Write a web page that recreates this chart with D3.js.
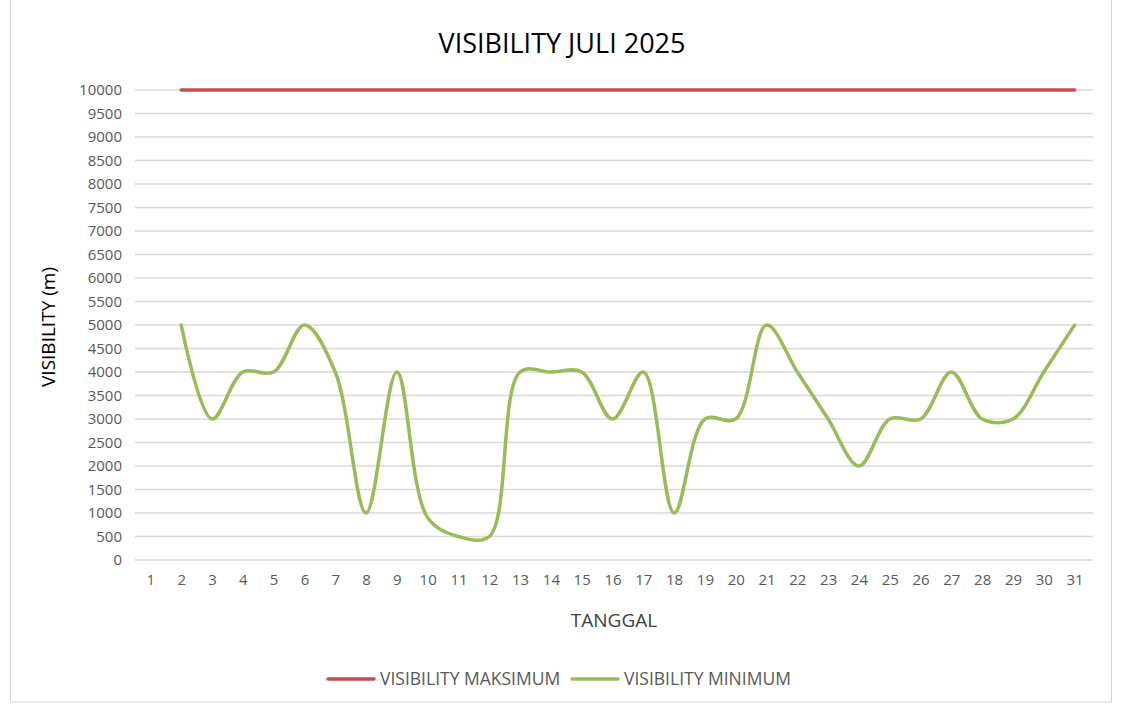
<!DOCTYPE html>
<html>
<head>
<meta charset="utf-8">
<script src="https://cdn.jsdelivr.net/npm/d3@7"></script>
<style>
  body { margin: 0; background: #fff; }
  svg, svg text { font-family: "Open Sans", "Noto Sans", sans-serif; }
</style>
</head>
<body>
<div id="container"></div>
<script>
// data
var days = d3.range(1, 32)
var visMax = [null, 10000, 10000, 10000, 10000, 10000, 10000, 10000, 10000, 10000,
  10000, 10000, 10000, 10000, 10000, 10000, 10000, 10000, 10000, 10000,
  10000, 10000, 10000, 10000, 10000, 10000, 10000, 10000, 10000, 10000, 10000]
var visMin = [null, 5000, 3000, 4000, 4000, 5000, 4000, 1000, 4000, 900,
  500, 500, 4000, 4000, 4000, 3000, 4000, 1000, 3000, 3000,
  5000, 4000, 3000, 2000, 3000, 3000, 4000, 3000, 3000, 4000, 5000]
var yTicks = d3.range(0, 10001, 500)
var seriesNames = ['VISIBILITY MAKSIMUM', 'VISIBILITY MINIMUM']
var seriesColors = ['#C0504D', '#9BBB59']

var WIDTH = 1122
var HEIGHT = 707
var plotLeft = 135, plotRight = 1090, plotTop = 90, plotBottom = 560

var svg = d3.select('#container').append('svg')
  .attr('width', WIDTH)
  .attr('height', HEIGHT)

// chart border
svg.append('rect')
  .attr('x', 10.5).attr('y', -2)
  .attr('width', 1101).attr('height', 704)
  .attr('fill', 'none')
  .attr('stroke', '#d9d9d9')

var x = d3.scalePoint()
  .domain(days)
  .range([plotLeft, plotRight])
  .padding(0.5)

var y = d3.scaleLinear()
  .domain([0, 10000])
  .range([plotBottom, plotTop])

// gridlines
svg.append('g')
  .selectAll('line')
  .data(yTicks)
  .enter().append('line')
  .attr('x1', plotLeft).attr('x2', plotRight + 3)
  .attr('y1', function (d) { return y(d) })
  .attr('y2', function (d) { return y(d) })
  .attr('stroke', '#d9d9d9')
  .attr('stroke-width', 1.5)

var yAxis = svg.append('g')
  .attr('transform', 'translate(' + (plotLeft - 13) + ',0)')
  .call(d3.axisLeft(y).tickValues(yTicks).tickSize(0).tickPadding(0).tickFormat(d3.format('d')))
yAxis.select('.domain').remove()
yAxis.attr('font-family', null).attr('font-size', null)
yAxis.selectAll('text')
  .attr('fill', '#595959')
  .style('font-size', '15px')

var xAxis = svg.append('g')
  .attr('transform', 'translate(0,' + (plotBottom + 14) + ')')
  .call(d3.axisBottom(x).tickSize(0).tickPadding(0))
xAxis.select('.domain').remove()
xAxis.attr('font-family', null).attr('font-size', null)
xAxis.selectAll('text')
  .attr('fill', '#595959')
  .style('font-size', '15px')

svg.append('text')
  .attr('x', 562).attr('y', 53)
  .attr('text-anchor', 'middle')
  .attr('fill', '#000')
  .style('font-size', '27px')
  .text('VISIBILITY JULI 2025')

svg.append('text')
  .attr('x', 614).attr('y', 627)
  .attr('text-anchor', 'middle')
  .attr('fill', '#404040')
  .style('font-size', '19px')
  .text('TANGGAL')

svg.append('text')
  .attr('transform', 'translate(55,327) rotate(-90)')
  .attr('text-anchor', 'middle')
  .attr('fill', '#000')
  .style('font-size', '19px')
  .text('VISIBILITY (m)')

// centripetal catmull-rom keeps the overshoot small, closer to excel smoothing
var line = d3.line()
  .defined(function (d) { return d != null })
  .x(function (d, i) { return x(days[i]) })
  .y(function (d) { return y(d) })
  .curve(d3.curveCatmullRom.alpha(0.5))

var allSeries = [visMax, visMin]
svg.append('g')
  .selectAll('path')
  .data(allSeries)
  .enter().append('path')
  .attr('d', line)
  .attr('fill', 'none')
  .attr('stroke', function (d, i) { return seriesColors[i] })
  .attr('stroke-width', 3.5)
  .attr('stroke-linecap', 'round')

// legend
var legendX = [328, 572]
var legend = svg.append('g')
  .selectAll('g')
  .data(seriesNames)
  .enter().append('g')
  .attr('transform', function (d, i) { return 'translate(' + legendX[i] + ',679)' })
legend.append('line')
  .attr('x1', 0).attr('x2', 46)
  .attr('stroke', function (d, i) { return seriesColors[i] })
  .attr('stroke-width', 3.5)
  .attr('stroke-linecap', 'round')
legend.append('text')
  .attr('x', 52).attr('dy', '0.35em')
  .attr('fill', '#595959')
  .style('font-size', '17.5px')
  .text(function (d) { return d })
</script>
</body>
</html>
